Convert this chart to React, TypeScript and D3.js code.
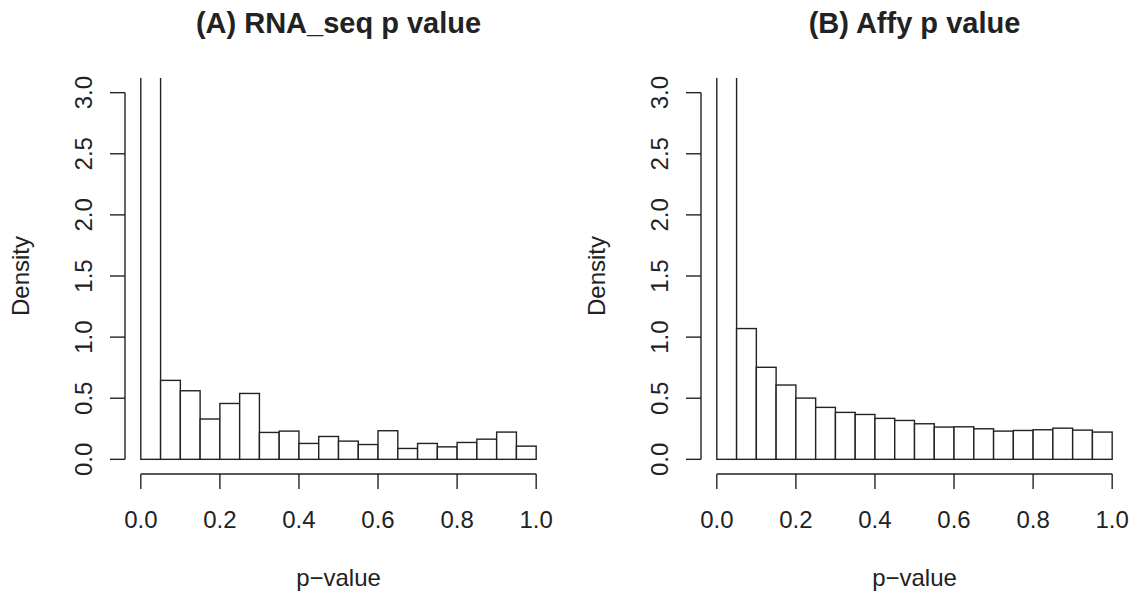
import React from "react";
import * as d3 from "d3";

const binEdges = d3.range(0, 1.0001, 0.05).map((v) => +v.toFixed(2));
// densities per bin (first bin runs off the top of the plot)
const rnaSeqDensity = [15.24, 0.646, 0.561, 0.33, 0.457, 0.539, 0.22, 0.231, 0.13, 0.187, 0.149, 0.121, 0.234, 0.089, 0.13, 0.102, 0.138, 0.165, 0.223, 0.108];
const affyDensity = [12.74, 1.07, 0.753, 0.608, 0.501, 0.425, 0.384, 0.367, 0.335, 0.318, 0.291, 0.264, 0.266, 0.25, 0.231, 0.236, 0.242, 0.255, 0.239, 0.223];
const xTicks = [0, 0.2, 0.4, 0.6, 0.8, 1.0];
const yTicks = [0, 0.5, 1.0, 1.5, 2.0, 2.5, 3.0];
const titles = ["(A) RNA_seq p value", "(B) Affy p value"];
const xLabel = "p\u2212value";
const yLabel = "Density";

const W = 1140;
const H = 596;
const FONT = "'Liberation Sans', Arial, Helvetica, sans-serif";
const INK = "#222";

function Panel({ left, title, values, id }: { left: number; title: string; values: number[]; id: string }) {
  const plotL = left;
  const plotR = left + 427;
  const plotT = 78;
  const plotB = 474;
  const x = d3.scaleLinear().domain([-0.04, 1.04]).range([plotL, plotR]);
  const y = d3.scaleLinear().domain([-0.12, 3.12]).range([plotB, plotT]);
  const tick = 15;
  return (
    <g>
      <defs>
        <clipPath id={id}>
          <rect x={plotL} y={plotT} width={plotR - plotL} height={plotB - plotT} />
        </clipPath>
      </defs>
      <text x={(plotL + plotR) / 2} y={33} textAnchor="middle" fontFamily={FONT} fontWeight="bold" fontSize={29} fill={INK}>
        {title}
      </text>
      <g clipPath={`url(#${id})`}>
        {values.map((v, i) => (
          <rect
            key={i}
            x={x(binEdges[i])}
            y={y(v)}
            width={x(binEdges[i + 1]) - x(binEdges[i])}
            height={y(0) - y(v)}
            fill="white"
            stroke={INK}
            strokeWidth={1.4}
          />
        ))}
      </g>
      {/* y axis */}
      <line x1={plotL} x2={plotL} y1={y(0)} y2={y(3)} stroke={INK} strokeWidth={1.4} />
      {yTicks.map((t) => (
        <g key={t}>
          <line x1={plotL - tick} x2={plotL} y1={y(t)} y2={y(t)} stroke={INK} strokeWidth={1.4} />
          <text
            transform={`translate(${plotL - 33},${y(t)}) rotate(-90)`}
            textAnchor="middle"
            fontFamily={FONT}
            fontSize={24}
            fill={INK}
          >
            {t.toFixed(1)}
          </text>
        </g>
      ))}
      {/* x axis */}
      <line x1={x(0)} x2={x(1)} y1={plotB} y2={plotB} stroke={INK} strokeWidth={1.4} />
      {xTicks.map((t) => (
        <g key={t}>
          <line x1={x(t)} x2={x(t)} y1={plotB} y2={plotB + tick} stroke={INK} strokeWidth={1.4} />
          <text x={x(t)} y={528} textAnchor="middle" fontFamily={FONT} fontSize={24} fill={INK}>
            {t.toFixed(1)}
          </text>
        </g>
      ))}
      <text x={(plotL + plotR) / 2} y={586} textAnchor="middle" fontFamily={FONT} fontSize={24} fill={INK}>
        {xLabel}
      </text>
      <text
        transform={`translate(${plotL - 96},${(plotT + plotB) / 2}) rotate(-90)`}
        textAnchor="middle"
        fontFamily={FONT}
        fontSize={24}
        fill={INK}
      >
        {yLabel}
      </text>
    </g>
  );
}

export default function App() {
  return (
    <svg width={W} height={H} style={{ position: "absolute", left: 0, top: 0, background: "white" }}>
      <rect width={W} height={H} fill="white" />
      <Panel left={125} title={titles[0]} values={rnaSeqDensity} id="clipA" />
      <Panel left={701} title={titles[1]} values={affyDensity} id="clipB" />
    </svg>
  );
}
